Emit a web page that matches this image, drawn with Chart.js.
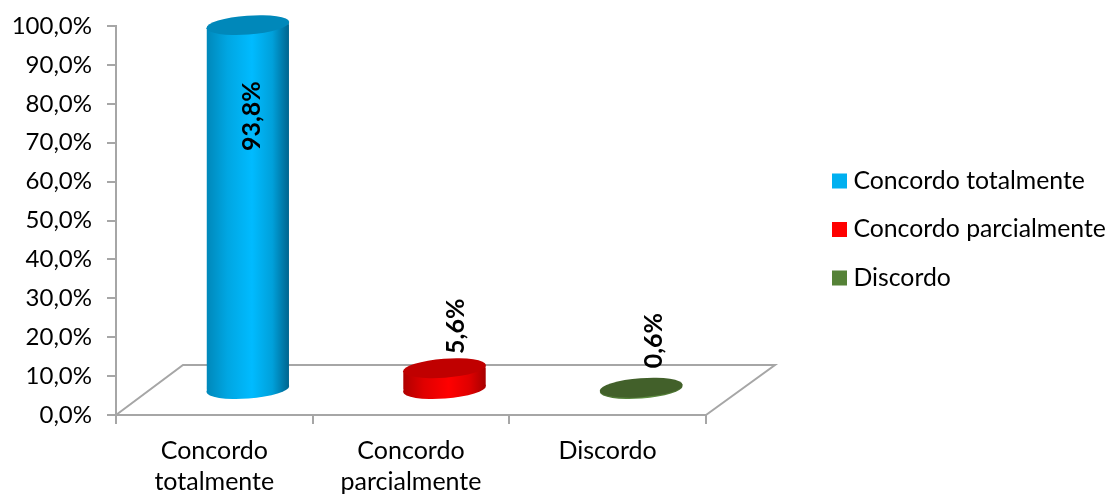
<!DOCTYPE html>
<html lang="pt">

<head>
    <meta charset="UTF-8">
    <title>Concordo</title>
    <script src="https://cdn.jsdelivr.net/npm/chart.js"></script>
    <style>
        html, body { margin: 0; padding: 0; background: #fff; }
        #wrap { width: 1110px; height: 494px; }
    </style>
</head>

<body>
    <div id="wrap"><canvas id="myChart"></canvas></div>

    <script>
        const categorias = [['Concordo', 'totalmente'], ['Concordo', 'parcialmente'], 'Discordo'];
        const nomesLegenda = ['Concordo totalmente', 'Concordo parcialmente', 'Discordo'];
        const valores = [93.8, 5.6, 0.6];

        const coresLegenda = ['#00B0F0', '#FF0000', '#558237'];
        const coresTopo = ['#0088BA', '#C00000', '#42602A'];
        const coresLado = [
            ['#0088BA', '#00A6E2', '#00BBFF', '#00A0DA', '#00658F'],
            ['#B00000', '#E00000', '#FF0000', '#E00000', '#A80000'],
            ['#4A7030', '#55803A', '#5F9042', '#55803A', '#466A2C']
        ];

        // the 3D look: bars stand in the middle of the floor
        const dx = 33.5, dy = -25, raioX = 41, raioY = 9.5, inclinacao = -0.075;
        const desvioRotulo = [[4, 91], [11, -42], [13, -47]];
        const fonte = 'Lato';
        const cinza = '#A6A6A6';

        function pct(v) {
            return v.toFixed(1).replace('.', ',') + '%';
        }

        function gradiente(chart, i, x) {
            const g = chart.ctx.createLinearGradient(x - raioX, 0, x + raioX, 0);
            [0, 0.25, 0.55, 0.8, 1].forEach((p, k) => g.addColorStop(p, coresLado[i][k]));
            return g;
        }

        function elipse(ctx, x, y) {
            ctx.beginPath();
            ctx.ellipse(x, y, raioX + 0.5, raioY, inclinacao, 0, Math.PI * 2);
            ctx.fill();
        }

        // side of the cylinder, slanted like the ellipses
        function lado(ctx, b, s) {
            ctx.moveTo(b.x - raioX, b.y - s);
            ctx.lineTo(b.x + raioX, b.y + s);
            ctx.lineTo(b.x + raioX, b.base + s);
            ctx.lineTo(b.x - raioX, b.base - s);
            ctx.closePath();
        }

        const cilindro = {
            id: 'cilindro',
            beforeLayout(chart) {
                const legenda = chart.legend;
                if (!legenda._fitOriginal) {
                    legenda._fitOriginal = legenda.fit;
                    legenda.fit = function () {
                        this._fitOriginal();
                        this.width = 404;
                    };
                }
            },
            afterLayout(chart) {
                const legenda = chart.legend;
                const p = legenda.options.labels.padding;
                legenda.left = 838 - p;
                legenda.right = legenda.left + 404;
                legenda.top = 168.6 - p;
            },
            beforeDatasetsDraw(chart) {
                // floor of the 3D chart
                const a = chart.chartArea, ctx = chart.ctx;
                ctx.save();
                ctx.strokeStyle = cinza;
                ctx.lineWidth = 2;
                ctx.beginPath();
                ctx.moveTo(a.left, a.bottom);
                ctx.lineTo(a.left + 67, a.bottom - 50);
                ctx.lineTo(a.right + 69, a.bottom - 50);
                ctx.lineTo(a.right, a.bottom);
                ctx.stroke();
                ctx.restore();
            },
            beforeDatasetDraw(chart) {
                const ctx = chart.ctx, barras = chart.getDatasetMeta(0).data;
                const s = Math.tan(inclinacao) * raioX;
                ctx.save();
                ctx.translate(dx, dy);
                barras.forEach((b, i) => {
                    ctx.fillStyle = gradiente(chart, i, b.x);
                    elipse(ctx, b.x, b.base);
                    ctx.beginPath();
                    lado(ctx, b, s);
                    ctx.fill();
                });
                ctx.beginPath();
                barras.forEach(b => lado(ctx, b, s));
                ctx.clip();
            },
            afterDatasetDraw(chart) {
                const ctx = chart.ctx, barras = chart.getDatasetMeta(0).data;
                ctx.restore();
                ctx.save();
                ctx.translate(dx, dy);
                barras.forEach((b, i) => {
                    ctx.fillStyle = coresTopo[i];
                    elipse(ctx, b.x, b.y);
                });
                ctx.restore();
            },
            afterDatasetsDraw(chart) {
                const ctx = chart.ctx, barras = chart.getDatasetMeta(0).data;
                barras.forEach((b, i) => {
                    ctx.save();
                    ctx.translate(b.x + dx + desvioRotulo[i][0], b.y + dy + desvioRotulo[i][1]);
                    ctx.rotate(-Math.PI / 2);
                    ctx.font = 'bold 25px ' + fonte;
                    ctx.fillStyle = '#000';
                    ctx.textAlign = 'center';
                    ctx.textBaseline = 'middle';
                    ctx.fillText(pct(valores[i]), 0, 0);
                    ctx.restore();
                });
            }
        };

        new Chart(document.getElementById('myChart'), {
            type: 'bar',
            data: {
                labels: categorias,
                datasets: [{
                    data: valores,
                    barThickness: 82,
                    clip: false,
                    backgroundColor: c => gradiente(c.chart, c.dataIndex, c.chart.scales.x.getPixelForValue(c.dataIndex))
                }]
            },
            plugins: [cilindro],
            options: {
                responsive: true,
                maintainAspectRatio: false,
                animation: false,
                layout: { padding: { top: 26, left: 0, right: 0, bottom: 0 } },
                scales: {
                    y: {
                        min: 0,
                        max: 100,
                        afterFit(s) {
                            s.width = 116;
                            s.paddingTop = 0;
                            s.paddingBottom = 0;
                        },
                        grid: { drawOnChartArea: false, color: cinza, tickLength: 9, lineWidth: 2 },
                        border: { color: cinza, width: 2 },
                        ticks: {
                            stepSize: 10,
                            padding: 15,
                            color: '#000',
                            font: { family: fonte, size: 24 },
                            callback: v => pct(v)
                        }
                    },
                    x: {
                        afterFit(s) { s.height = 79; },
                        grid: { drawOnChartArea: false, color: cinza, tickLength: 9, lineWidth: 2 },
                        border: { color: cinza, width: 2 },
                        ticks: {
                            padding: 11,
                            maxRotation: 0,
                            color: '#000',
                            font: { family: fonte, size: 25, lineHeight: 1.24 }
                        }
                    }
                },
                plugins: {
                    tooltip: { enabled: false },
                    legend: {
                        position: 'right',
                        align: 'start',
                        labels: {
                            usePointStyle: true,
                            pointStyle: 'rect',
                            boxWidth: 3,
                            boxHeight: 15,
                            padding: 23.7,
                            color: '#000',
                            font: { family: fonte, size: 24.8 },
                            generateLabels: () => nomesLegenda.map((t, i) => ({
                                text: t,
                                fillStyle: coresLegenda[i],
                                strokeStyle: coresLegenda[i],
                                lineWidth: 0,
                                pointStyle: 'rect',
                                index: i
                            }))
                        }
                    }
                }
            }
        });
    </script>
</body>

</html>
